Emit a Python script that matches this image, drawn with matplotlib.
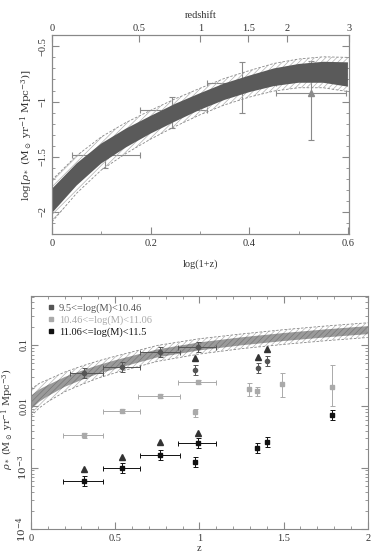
import numpy as np
import matplotlib
matplotlib.use("Agg")
import matplotlib.pyplot as plt
from matplotlib.lines import Line2D
from matplotlib.ticker import MultipleLocator, LogLocator, NullFormatter, FixedLocator

plt.rcParams['font.family'] = ['Liberation Serif', 'DejaVu Serif']
plt.rcParams['mathtext.fontset'] = 'dejavuserif'
plt.rcParams['hatch.linewidth'] = 0.5
plt.rcParams['axes.edgecolor'] = '#888888'
plt.rcParams['xtick.color'] = '#888888'
plt.rcParams['ytick.color'] = '#888888'
plt.rcParams['xtick.labelcolor'] = '#333333'
plt.rcParams['ytick.labelcolor'] = '#333333'

# ---- top panel: SFR density band vs log(1+z)
band_lx = [0, 0.05, 0.1, 0.15, 0.2, 0.25, 0.3, 0.35, 0.4, 0.45, 0.5, 0.55, 0.6]
band_mid = [-1.90, -1.66, -1.47, -1.33, -1.21, -1.10, -1.00, -0.91, -0.84, -0.78, -0.745, -0.735, -0.755]
band_in = [0.11, 0.10, 0.09, 0.085, 0.08, 0.08, 0.075, 0.075, 0.075, 0.08, 0.085, 0.095, 0.11]
band_out = [0.19, 0.17, 0.15, 0.14, 0.13, 0.125, 0.12, 0.12, 0.12, 0.125, 0.13, 0.14, 0.155]

# top panel data points
pts_x = [0.107, 0.244, 0.385, 0.525]
pts_y = [-1.48, -1.08, -0.83, -0.92]
pts_xlo = [0.04, 0.178, 0.315, 0.455]
pts_xhi = [0.178, 0.315, 0.455, 0.596]
pts_ylo = [-1.60, -1.24, -1.10, -1.345]
pts_yhi = [-1.40, -0.955, -0.64, -0.63]

z_ticks = [0, 0.5, 1, 1.5, 2, 3]

# ---- bottom panel: band vs z
bz = [0, 0.05, 0.1, 0.2, 0.3, 0.4, 0.5, 0.75, 1.0, 1.25, 1.5, 1.75, 2.0]
bz_mid = [0.0115, 0.015, 0.018, 0.025, 0.032, 0.040, 0.048, 0.073, 0.095, 0.115, 0.135, 0.155, 0.175]
bz_in = [0.11, 0.10, 0.09, 0.08, 0.075, 0.07, 0.07, 0.065, 0.065, 0.065, 0.065, 0.065, 0.065]
bz_out = [0.22, 0.20, 0.18, 0.16, 0.15, 0.14, 0.135, 0.13, 0.125, 0.12, 0.12, 0.12, 0.12]

# mass bins; None in z_lo -> no horizontal bar
low_z = [0.315, 0.54, 0.765, 0.99, 0.973, 1.347, 1.40]
low_r = [0.035, 0.044, 0.077, 0.093, 0.039, 0.042, 0.055]
low_zlo = [0.23, 0.43, 0.645, 0.875, None, None, None]
low_zhi = [0.43, 0.65, 0.885, 1.10, None, None, None]

mid_z = [0.315, 0.54, 0.765, 0.99, 0.975, 1.294, 1.341, 1.49, 1.79]
mid_r = [0.0034, 0.0084, 0.0148, 0.025, 0.0080, 0.0193, 0.0179, 0.0232, 0.0208]
mid_zlo = [0.19, 0.43, 0.635, 0.875, None, None, None, None, None]
mid_zhi = [0.43, 0.65, 0.885, 1.10, None, None, None, None, None]
mid_rlo = [0.0031, 0.0078, 0.0138, 0.023, 0.0068, 0.0145, 0.0150, 0.0140, 0.0100]
mid_rhi = [0.0037, 0.0090, 0.0158, 0.027, 0.0092, 0.0240, 0.0210, 0.0350, 0.0470]

high_z = [0.315, 0.54, 0.765, 0.99, 0.975, 1.341, 1.40, 1.79]
high_r = [0.00061, 0.0010, 0.0016, 0.0025, 0.00125, 0.0021, 0.0026, 0.0073]
high_zlo = [0.19, 0.43, 0.645, 0.875, None, None, None, None]
high_zhi = [0.43, 0.65, 0.885, 1.10, None, None, None, None]

tri_z = [0.315, 0.54, 0.765, 0.99, 0.973, 1.347, 1.40]
tri_r = [0.00096, 0.0015, 0.0026, 0.0037, 0.0615, 0.064, 0.086]

legend_labels = ['9.5<=log(M)<10.46', '10.46<=log(M)<11.06', '11.06<=log(M)<11.5']
c_low, c_mid, c_high = '#555555', '#aaaaaa', '#111111'

fig = plt.figure(figsize=(3.82, 5.60), dpi=100)
fs = 7.5

# ================= top panel
ax1 = fig.add_axes([0.136, 0.582, 0.778, 0.355])
lx = np.array(band_lx)
mid = np.array(band_mid)
ax1.fill_between(lx, mid - np.array(band_out), mid + np.array(band_out),
                 facecolor='none', edgecolor='#b0b0b0', hatch='//////', linewidth=0, zorder=3)
ax1.fill_between(lx, mid - np.array(band_in), mid + np.array(band_in),
                 facecolor='#5a5a5a', edgecolor='none', zorder=3)
ax1.plot(lx, mid - np.array(band_out), color='#888888', lw=0.6, dashes=(3, 2), zorder=3)
ax1.plot(lx, mid + np.array(band_out), color='#888888', lw=0.6, dashes=(3, 2), zorder=3)

px = np.array(pts_x)
py = np.array(pts_y)
ax1.errorbar(px, py,
             xerr=[px - np.array(pts_xlo), np.array(pts_xhi) - px],
             yerr=[py - np.array(pts_ylo), np.array(pts_yhi) - py],
             fmt='^', ms=4.5, color='#8a8a8a', mfc='#8a8a8a', mec='#8a8a8a',
             elinewidth=0.8, capsize=2.5, capthick=0.8, zorder=2)

ax1.set_xlim(0, 0.6025)
ax1.set_ylim(-2.2, -0.4)
ax1.set_xticks([0, 0.2, 0.4, 0.6])
ax1.set_xticklabels(['0', '0.2', '0.4', '0.6'])
ax1.xaxis.set_minor_locator(MultipleLocator(0.1))
ax1.set_yticks([-2, -1.5, -1, -0.5])
ax1.set_yticklabels(['\u22122', '\u22121.5', '\u22121', '\u22120.5'])
ax1.yaxis.set_minor_locator(MultipleLocator(0.1))
ax1.tick_params(which='both', direction='in', right=True, top=False, labelsize=fs)
ax1.tick_params(which='major', length=5)
ax1.tick_params(which='minor', length=2.5)
ax1.tick_params(axis='y', labelrotation=90)
for t in ax1.get_yticklabels():
    t.set_va('center')
ax1.set_xlabel('log(1+z)', fontsize=fs, color='#333333', labelpad=8)
ax1.set_ylabel(r'$\log[\rho_*\ (\mathrm{M_\odot\ yr^{-1}\ Mpc^{-3}})]$', fontsize=fs,
               color='#333333', labelpad=2)

ax1t = ax1.twiny()
ax1t.set_xlim(ax1.get_xlim())
ax1t.xaxis.set_major_locator(FixedLocator([np.log10(1 + z) for z in z_ticks]))
ax1t.set_xticklabels([f'{z:g}' for z in z_ticks])
ax1t.tick_params(direction='in', length=5, labelsize=fs, pad=2)
ax1t.set_xlabel('redshift', fontsize=fs, color='#333333', labelpad=4)

# ================= bottom panel
ax2 = fig.add_axes([0.081, 0.0554, 0.882, 0.416])
z = np.array(bz)
m = np.log10(bz_mid)
ax2.fill_between(z, 10 ** (m - np.array(bz_out)), 10 ** (m + np.array(bz_out)),
                 facecolor='none', edgecolor='#b5b5b5', hatch='//////', linewidth=0)
ax2.fill_between(z, 10 ** (m - np.array(bz_in)), 10 ** (m + np.array(bz_in)),
                 facecolor='#9a9a9a', edgecolor='#777777', hatch='//////', linewidth=0)
ax2.plot(z, 10 ** (m - np.array(bz_out)), color='#888888', lw=0.6, dashes=(3, 2))
ax2.plot(z, 10 ** (m + np.array(bz_out)), color='#888888', lw=0.6, dashes=(3, 2))


def draw_bin(ax, zz, rr, zlo, zhi, rlo, rhi, color, ms, marker='s'):
    for i in range(len(zz)):
        xe = None
        if zlo[i] is not None:
            xe = [[zz[i] - zlo[i]], [zhi[i] - zz[i]]]
        if rlo is not None:
            ye = [[rr[i] - rlo[i]], [rhi[i] - rr[i]]]
        else:
            ye = [[rr[i] * (1 - 10 ** -0.08)], [rr[i] * (10 ** 0.08 - 1)]]
        ax.errorbar([zz[i]], [rr[i]], xerr=xe, yerr=ye, fmt=marker, ms=ms,
                    color=color, mfc=color, mec=color, elinewidth=0.7,
                    capsize=1.8, capthick=0.7)


draw_bin(ax2, low_z, low_r, low_zlo, low_zhi, None, None, c_low, 3.0, 'o')
draw_bin(ax2, mid_z, mid_r, mid_zlo, mid_zhi, mid_rlo, mid_rhi, c_mid, 3.5, 's')
draw_bin(ax2, high_z, high_r, high_zlo, high_zhi, None, None, c_high, 3.5, 's')
ax2.plot(tri_z, tri_r, '^', ms=4.5, color='#333333', ls='none')

ax2.set_yscale('log')
ax2.set_xlim(0, 2)
ax2.set_ylim(1e-4, 0.63)
ax2.set_xticks([0, 0.5, 1, 1.5, 2])
ax2.set_xticklabels(['0', '0.5', '1', '1.5', '2'])
ax2.xaxis.set_minor_locator(MultipleLocator(0.1))
ax2.yaxis.set_major_locator(FixedLocator([1e-4, 1e-3, 1e-2, 1e-1]))
ax2.set_yticklabels([r'$10^{-4}$', r'$10^{-3}$', '0.01', '0.1'])
ax2.yaxis.set_minor_locator(LogLocator(base=10, subs=np.arange(2, 10)))
ax2.yaxis.set_minor_formatter(NullFormatter())
ax2.tick_params(which='both', direction='in', right=True, top=True, labelsize=fs)
ax2.tick_params(which='major', length=5)
ax2.tick_params(which='minor', length=2.5)
ax2.tick_params(axis='y', labelrotation=90, pad=1.5)
for t in ax2.get_yticklabels():
    t.set_va('center')
ax2.set_xlabel('z', fontsize=fs, color='#333333', labelpad=1)
ax2.set_ylabel(r'$\rho_*\ (\mathrm{M_\odot\ yr^{-1}\ Mpc^{-3}})$', fontsize=7,
               color='#333333')
ax2.yaxis.set_label_coords(-0.045, 0.47)

handles = [Line2D([], [], marker='s', ls='none', ms=2.5, color=c) for c in (c_low, c_mid, c_high)]
leg = ax2.legend(handles, legend_labels, loc='upper left', frameon=False, fontsize=7.5,
                 handlelength=0.6, handletextpad=0.4, labelspacing=0.25,
                 borderaxespad=0.3, bbox_to_anchor=(0.03, 1.0))
for txt, c in zip(leg.get_texts(), (c_low, c_mid, c_high)):
    txt.set_color(c)

fig.savefig('out.png', dpi=100)
